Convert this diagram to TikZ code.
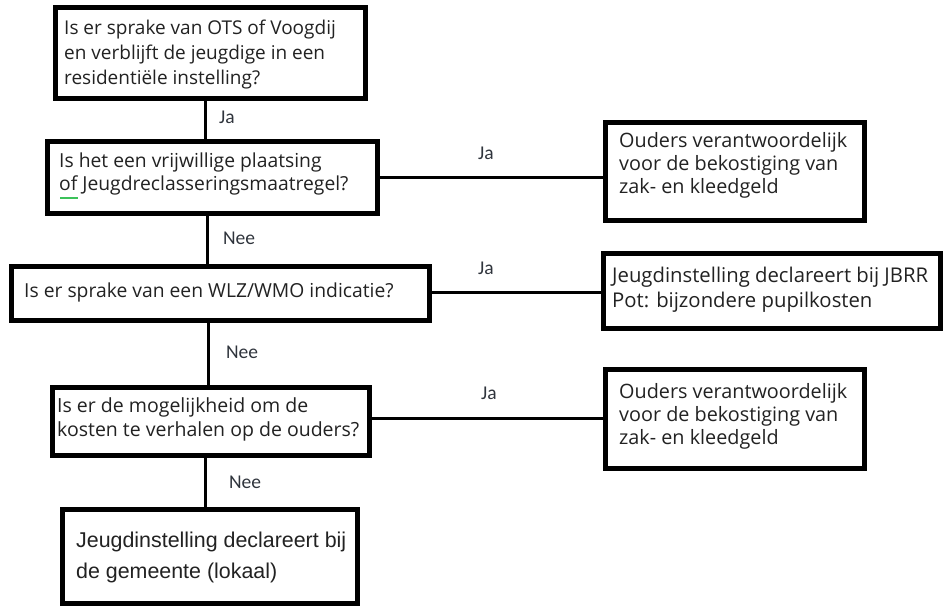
\documentclass[tikz,border=0pt]{standalone}
\usepackage{fontspec}
\setmainfont{Open Sans}
\newfontfamily\labelfont{Carlito}
\newfontfamily\arialfont{Liberation Sans}
\definecolor{txtgray}{HTML}{222222}
\definecolor{lblgray}{HTML}{2F343C}
\definecolor{spellgreen}{HTML}{3CC25A}
\tikzset{
  box/.style={draw=black, line width=5pt, fill=white, inner sep=0pt},
  txt/.style={anchor=west, align=left, inner sep=0pt, text=txtgray,
              font=\fontsize{19.3}{24}\selectfont},
  lbl/.style={inner sep=0pt, text=lblgray, font=\labelfont\fontsize{19.5}{20}\selectfont},
  conn/.style={draw=black, line width=3pt}
}
\begin{document}
\begin{tikzpicture}[x=1pt,y=-1pt]
\useasboundingbox (0,0) rectangle (943,607);
% boxes
\node[box, minimum width=310pt, minimum height=91pt] (b1) at (210.5,53) {};
\node[box, minimum width=330pt, minimum height=72pt] (b2) at (212.5,177.5) {};
\node[box, minimum width=418pt, minimum height=54pt] (b3) at (220.5,293.5) {};
\node[box, minimum width=317pt, minimum height=68pt] (b4) at (211,421.5) {};
\node[box, minimum width=295pt, minimum height=94pt] (b5) at (210,556.5) {};
\node[box, minimum width=259pt, minimum height=98pt] (r1) at (735,171.5) {};
\node[box, minimum width=337pt, minimum height=75pt] (r2) at (772,291) {};
\node[box, minimum width=259pt, minimum height=99pt] (r3) at (735,419) {};
% texts
\node[txt, font=\fontsize{19}{25}\selectfont] (t1) at (64,55) {Is er sprake van OTS of Voogdij\\en verblijft de jeugdige in een\\residenti\"ele instelling?};
\node[txt, font=\fontsize{19.3}{23}\selectfont] (t2) at (59,173.5) {Is het een vrijwillige plaatsing\\of Jeugdreclasseringsmaatregel?};
\node[txt] (t3) at (24,292) {Is er sprake van een WLZ/WMO indicatie?};
\node[txt, font=\fontsize{19.5}{24}\selectfont] (t4) at (57,419) {Is er de mogelijkheid om de\\kosten te verhalen op de ouders?};
\node[txt, font=\arialfont\fontsize{21.4}{31}\selectfont] (t5) at (76,557.5) {Jeugdinstelling declareert bij\\de gemeente (lokaal)};
\node[txt, font=\fontsize{19.8}{23}\selectfont] (t6) at (619,165) {Ouders verantwoordelijk\\voor de bekostiging van\\zak- en kleedgeld};
\node[txt, font=\fontsize{20.3}{25}\selectfont] (t7) at (612,289.5) {Jeugdinstelling declareert bij JBRR\\Pot: bijzondere pupilkosten};
\node[txt, font=\fontsize{19.8}{23}\selectfont] (t8) at (619,416) {Ouders verantwoordelijk\\voor de bekostiging van\\zak- en kleedgeld};
% spell-check mark
\coordinate (g1) at (60,198);
\coordinate (g2) at (78,198);
\draw[spellgreen, line width=1.2pt] (g1) -- (g2);
% vertical connectors
\coordinate (v1) at (205,0);
\coordinate (v2) at (207,0);
\coordinate (v3) at (208,0);
\coordinate (v4) at (205,0);
\draw[conn] (b1.south -| v1) -- (b2.north -| v1);
\draw[conn] (b2.south -| v2) -- (b3.north -| v2);
\draw[conn] (b3.south -| v3) -- (b4.north -| v3);
\draw[conn] (b4.south -| v4) -- (b5.north -| v4);
% horizontal connectors
\coordinate (h1) at (0,178);
\coordinate (h2) at (0,292);
\coordinate (h3) at (0,418);
\draw[conn] (b2.east |- h1) -- (r1.west |- h1);
\draw[conn] (b3.east |- h2) -- (r2.west |- h2);
\draw[conn] (b4.east |- h3) -- (r3.west |- h3);
% labels
\node[lbl] (l1) at (227,117) {Ja};
\node[lbl] (l2) at (239,238) {Nee};
\node[lbl] (l3) at (242,352) {Nee};
\node[lbl] (l4) at (245,482) {Nee};
\node[lbl] (l5) at (486,153) {Ja};
\node[lbl] (l6) at (486,268) {Ja};
\node[lbl] (l7) at (489,393) {Ja};
\end{tikzpicture}
\end{document}
